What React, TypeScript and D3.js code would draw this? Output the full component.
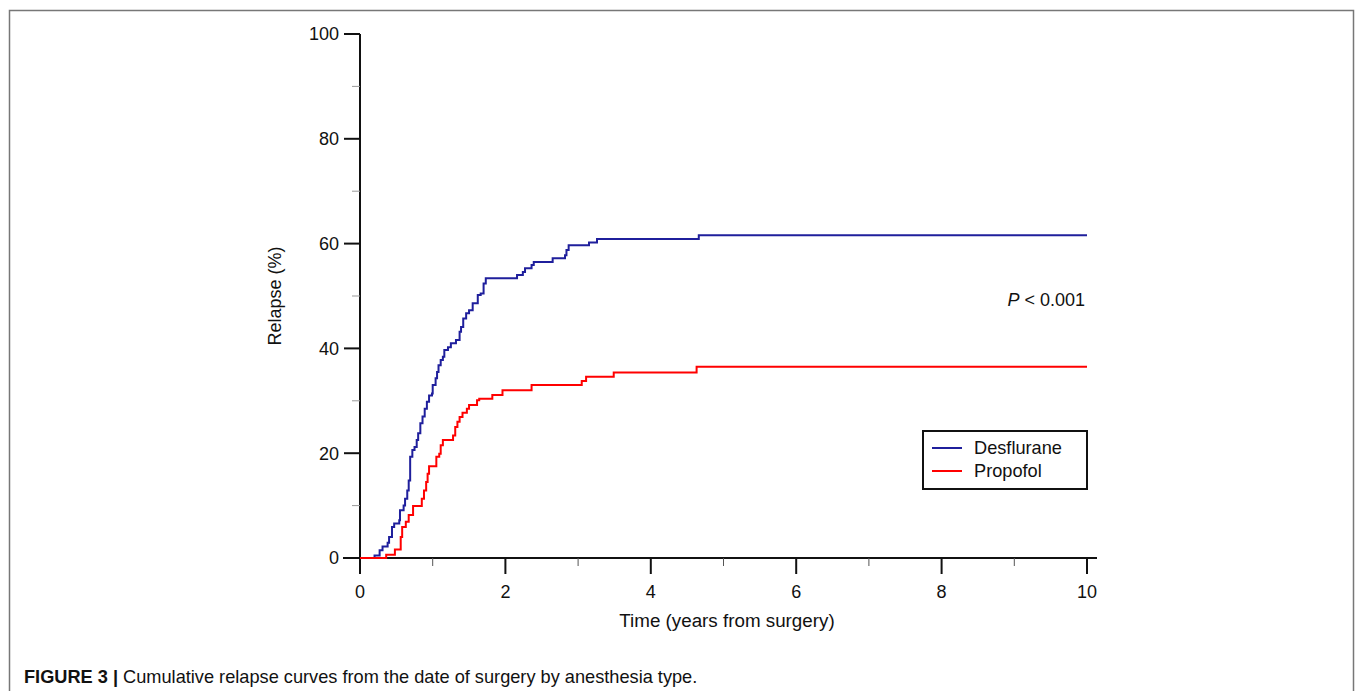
import React from "react";
import * as d3 from "d3";

const desfluraneTimes = [0, 0.2, 0.27, 0.31, 0.38, 0.4, 0.44, 0.47, 0.54, 0.55, 0.6, 0.62, 0.65, 0.67, 0.69, 0.72, 0.75, 0.78, 0.8, 0.83, 0.86, 0.89, 0.92, 0.95, 0.99, 1.0, 1.04, 1.06, 1.08, 1.11, 1.14, 1.16, 1.21, 1.25, 1.32, 1.37, 1.39, 1.42, 1.46, 1.5, 1.55, 1.62, 1.66, 1.7, 1.73, 2.16, 2.24, 2.27, 2.36, 2.39, 2.65, 2.82, 2.84, 2.87, 3.15, 3.26, 4.66, 10];
const desfluraneValues = [0, 0.5, 1.5, 2.2, 2.9, 4.0, 5.9, 6.6, 7.2, 9.1, 10.0, 11.3, 12.9, 14.8, 19.3, 20.6, 21.2, 22.5, 23.8, 25.7, 27.0, 28.5, 29.8, 31.0, 31.4, 33.0, 34.3, 35.5, 36.8, 37.8, 38.4, 39.7, 40.2, 41.0, 41.6, 43.2, 44.1, 45.7, 46.7, 47.3, 48.6, 50.2, 50.5, 52.4, 53.4, 54.0, 54.6, 55.3, 55.9, 56.5, 57.2, 57.8, 58.8, 59.7, 60.2, 60.9, 61.6, 61.6];

const propofolTimes = [0, 0.36, 0.48, 0.56, 0.58, 0.63, 0.67, 0.73, 0.85, 0.88, 0.91, 0.93, 0.95, 1.05, 1.09, 1.11, 1.14, 1.28, 1.31, 1.34, 1.37, 1.41, 1.47, 1.5, 1.61, 1.64, 1.82, 1.96, 2.36, 3.05, 3.11, 3.49, 4.63, 10];
const propofolValues = [0, 0.6, 1.6, 4.0, 5.9, 6.9, 8.2, 9.9, 11.3, 12.9, 14.5, 16.1, 17.5, 19.3, 19.9, 21.5, 22.5, 23.4, 25.0, 26.0, 26.9, 27.7, 28.5, 29.2, 30.1, 30.4, 31.1, 32.0, 33.0, 33.8, 34.6, 35.4, 36.5, 36.5];

const xMajorTicks = [0, 2, 4, 6, 8, 10];
const xMinorTicks = [1, 3, 5, 7, 9];
const yMajorTicks = [0, 20, 40, 60, 80, 100];
const yMinorTicks = [10, 30, 50, 70, 90];

const seriesNames = ["Desflurane", "Propofol"];
const seriesColors = ["#1f1f9c", "#ff0000"];

const FONT = "'Liberation Sans', Arial, sans-serif";

export default function App() {
  const x = d3.scaleLinear().domain([0, 10]).range([360, 1087]);
  const y = d3.scaleLinear().domain([0, 100]).range([558, 34]);
  const line = d3
    .line<[number, number]>()
    .x((d) => x(d[0]))
    .y((d) => y(d[1]))
    .curve(d3.curveStepAfter);

  const series = [
    desfluraneTimes.map((t, i) => [t, desfluraneValues[i]] as [number, number]),
    propofolTimes.map((t, i) => [t, propofolValues[i]] as [number, number]),
  ];

  return (
    <svg
      width={1355}
      height={691}
      style={{ position: "absolute", left: 0, top: 0, display: "block", background: "#fff" }}
      fontFamily={FONT}
    >
      {/* frame */}
      <path d="M9.5,691 V10.5 H1353.5 V691" fill="none" stroke="#777" strokeWidth={1.5} />

      {/* axes */}
      <line x1={343} x2={1097} y1={y(0)} y2={y(0)} stroke="#111" strokeWidth={2} />
      <line x1={x(0)} x2={x(0)} y1={y(100)} y2={y(0)} stroke="#111" strokeWidth={2} />

      {yMajorTicks.map((v) => (
        <g key={"ym" + v}>
          <line x1={344} x2={x(0)} y1={y(v)} y2={y(v)} stroke="#111" strokeWidth={2} />
          <text x={339} y={y(v)} dy="0.35em" textAnchor="end" fontSize={18} fill="#111">
            {v}
          </text>
        </g>
      ))}
      {yMinorTicks.map((v) => (
        <line key={"yn" + v} x1={352} x2={x(0)} y1={y(v)} y2={y(v)} stroke="#999" strokeWidth={1} />
      ))}
      {xMajorTicks.map((v) => (
        <g key={"xm" + v}>
          <line x1={x(v)} x2={x(v)} y1={y(0)} y2={574} stroke="#111" strokeWidth={2} />
          <text x={x(v)} y={598} textAnchor="middle" fontSize={18} fill="#111">
            {v}
          </text>
        </g>
      ))}
      {xMinorTicks.map((v) => (
        <line key={"xn" + v} x1={x(v)} x2={x(v)} y1={y(0)} y2={566} stroke="#555" strokeWidth={1} />
      ))}

      <text x={727} y={627} textAnchor="middle" fontSize={18.8} fill="#111">
        Time (years from surgery)
      </text>
      <text
        transform="translate(281,296) rotate(-90)"
        textAnchor="middle"
        fontSize={18}
        fill="#111"
      >
        Relapse (%)
      </text>

      {/* curves */}
      {series.map((s, i) => (
        <path key={i} d={line(s) || ""} fill="none" stroke={seriesColors[i]} strokeWidth={2} />
      ))}

      <text x={1085} y={306} textAnchor="end" fontSize={18} fill="#111">
        <tspan fontStyle="italic">P</tspan> {"< 0.001"}
      </text>

      {/* legend */}
      <rect x={923} y={431} width={164} height={58} fill="#fff" stroke="#111" strokeWidth={2} />
      {seriesNames.map((n, i) => (
        <g key={n}>
          <line x1={932} x2={962} y1={448 + i * 23} y2={448 + i * 23} stroke={seriesColors[i]} strokeWidth={2} />
          <text x={974} y={448 + i * 23} dy="0.35em" fontSize={18.2} fill="#111">
            {n}
          </text>
        </g>
      ))}

      {/* caption */}
      <text x={24} y={683} fontSize={18.2} fill="#111">
        <tspan fontWeight="bold">FIGURE 3 |</tspan> Cumulative relapse curves from the date of surgery by anesthesia type.
      </text>
    </svg>
  );
}
